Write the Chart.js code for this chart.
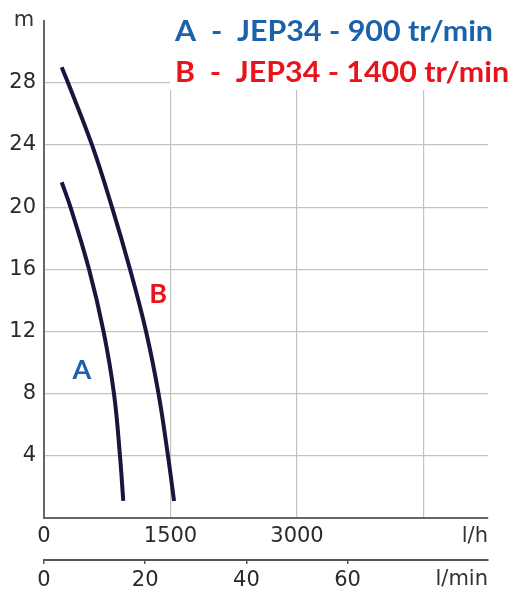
<!DOCTYPE html>
<html>
<head>
<meta charset="utf-8">
<script src="https://cdn.jsdelivr.net/npm/chart.js@4/dist/chart.umd.min.js"></script>
<style>
  body { margin: 0; background: #fff; }
  canvas { display: block; }
</style>
</head>
<body>
<canvas id="pump-chart" width="511" height="590"></canvas>
<script>
// flow (l/h) and head (m)
const flowA = [210, 314, 534, 706, 830, 901, 940];
const headA = [21.6, 20, 16, 12, 8, 4, 1.1];
const flowB = [210, 285, 569, 806, 1020, 1210, 1358, 1470, 1542];
const headB = [29, 28, 24, 20, 16, 12, 8, 4, 1.1];

const yTicks = [0, 4, 8, 12, 16, 20, 24, 28, 32];
const xTicks = [0, 1500, 3000, 4500];
const xTickLabels = ['0', '1500', '3000', ''];
const minTicks = [0, 20, 40, 60];
const minTickLabels = ['0', '20', '40', '60'];

const legendLines = ['A  -  JEP34 - 900 tr/min', 'B  -  JEP34 - 1400 tr/min'];
const curveNames = ['A', 'B'];
const namePos = [[450, 9.5], [1352, 14.4]]; // l/h, m
const X_MAX = 5265;

const BLUE = '#1b62aa';
const RED = '#e8131b';
const CURVE = '#16163f';
const LABEL_FONT = '"DejaVu Sans", sans-serif';

document.addEventListener('DOMContentLoaded', function() {
    const toPoints = (xs, ys) => xs.map((x, i) => ({ x: x, y: ys[i] }));

    const overlay = {
        id: 'overlay',
        beforeDatasetsDraw(chart) {
            const ctx = chart.ctx;
            ctx.save();
            // legend box hides the grid behind it
            ctx.fillStyle = '#fff';
            ctx.fillRect(170, 0, 341, 90);

            ctx.font = 'bold 28px Lato, sans-serif';
            ctx.textBaseline = 'alphabetic';
            ctx.textAlign = 'left';
            const widths = [318, 334];
            const bases = [41, 82];
            [BLUE, RED].forEach((c, i) => {
                const w = ctx.measureText(legendLines[i]).width;
                ctx.save();
                ctx.translate(175, bases[i]);
                ctx.scale(widths[i] / w, 1);
                ctx.fillStyle = c;
                ctx.fillText(legendLines[i], 0, 0);
                ctx.restore();
            });

            // unit labels
            ctx.fillStyle = '#333';
            ctx.font = '21px ' + LABEL_FONT;
            ctx.textBaseline = 'middle';
            ctx.textAlign = 'center';
            ctx.fillText('m', 24, 21);
            ctx.textAlign = 'right';
            ctx.fillText('l/h', 488, 537);
            ctx.fillText('l/min', 488, 580);
            ctx.restore();
        },
        afterDatasetsDraw(chart) {
            const ctx = chart.ctx;
            const xs = chart.scales.x, ys = chart.scales.y;
            ctx.save();
            ctx.font = 'bold 27px Lato, sans-serif';
            ctx.textAlign = 'center';
            ctx.textBaseline = 'middle';
            [BLUE, RED].forEach((c, i) => {
                ctx.fillStyle = c;
                ctx.fillText(curveNames[i], xs.getPixelForValue(namePos[i][0]), ys.getPixelForValue(namePos[i][1]));
            });
            ctx.restore();
        }
    };

    const ctx = document.getElementById('pump-chart').getContext('2d');
    new Chart(ctx, {
        type: 'scatter',
        data: {
            datasets: [{
                label: 'A',
                data: toPoints(flowA, headA),
                showLine: true,
                borderColor: CURVE,
                borderWidth: 4,
                pointRadius: 0,
                tension: 0.4
            }, {
                label: 'B',
                data: toPoints(flowB, headB),
                showLine: true,
                borderColor: CURVE,
                borderWidth: 4,
                pointRadius: 0,
                tension: 0.4
            }]
        },
        options: {
            responsive: false,
            animation: false,
            layout: { padding: { top: 16, right: 23, left: 0, bottom: 0 } },
            plugins: { legend: { display: false }, tooltip: { enabled: false } },
            scales: {
                y: {
                    min: 0,
                    max: 32,
                    afterBuildTicks: s => { s.ticks = yTicks.map(v => ({ value: v })); },
                    afterFit: s => { s.width = 44; },
                    border: { color: '#666', width: 2 },
                    grid: {
                        drawTicks: false,
                        color: c => (c.tick && (c.tick.value === 0 || c.tick.value === 32)) ? 'rgba(0,0,0,0)' : '#c2c2c2',
                        lineWidth: 1.2
                    },
                    ticks: {
                        padding: 8,
                        color: '#2a2a2a',
                        font: { family: LABEL_FONT, size: 21 },
                        callback: v => (v === 0 || v === 32) ? '' : String(v)
                    }
                },
                x: {
                    type: 'linear',
                    position: 'bottom',
                    weight: 0,
                    min: 0,
                    max: X_MAX,
                    afterBuildTicks: s => { s.ticks = xTicks.map(v => ({ value: v })); },
                    afterFit: s => { s.height = 42; },
                    border: { color: '#666', width: 2 },
                    grid: {
                        drawTicks: false,
                        color: c => (c.tick && c.tick.value === 0) ? 'rgba(0,0,0,0)' : '#c2c2c2',
                        lineWidth: 1.2
                    },
                    ticks: {
                        autoSkip: false,
                        maxRotation: 0,
                        padding: 6,
                        color: '#2a2a2a',
                        font: { family: LABEL_FONT, size: 21 },
                        callback: (v, i) => xTickLabels[i]
                    }
                },
                x2: {
                    type: 'linear',
                    position: 'bottom',
                    weight: 1,
                    min: 0,
                    max: X_MAX / 60,
                    afterBuildTicks: s => { s.ticks = minTicks.map(v => ({ value: v })); },
                    afterFit: s => { s.height = 30; },
                    border: { color: '#555', width: 2 },
                    grid: { drawOnChartArea: false, tickLength: 4, color: '#555', lineWidth: 1.5 },
                    ticks: {
                        autoSkip: false,
                        maxRotation: 0,
                        padding: 4,
                        color: '#2a2a2a',
                        font: { family: LABEL_FONT, size: 21 },
                        callback: (v, i) => minTickLabels[i]
                    }
                }
            }
        },
        plugins: [overlay]
    });
});
</script>
</body>
</html>
